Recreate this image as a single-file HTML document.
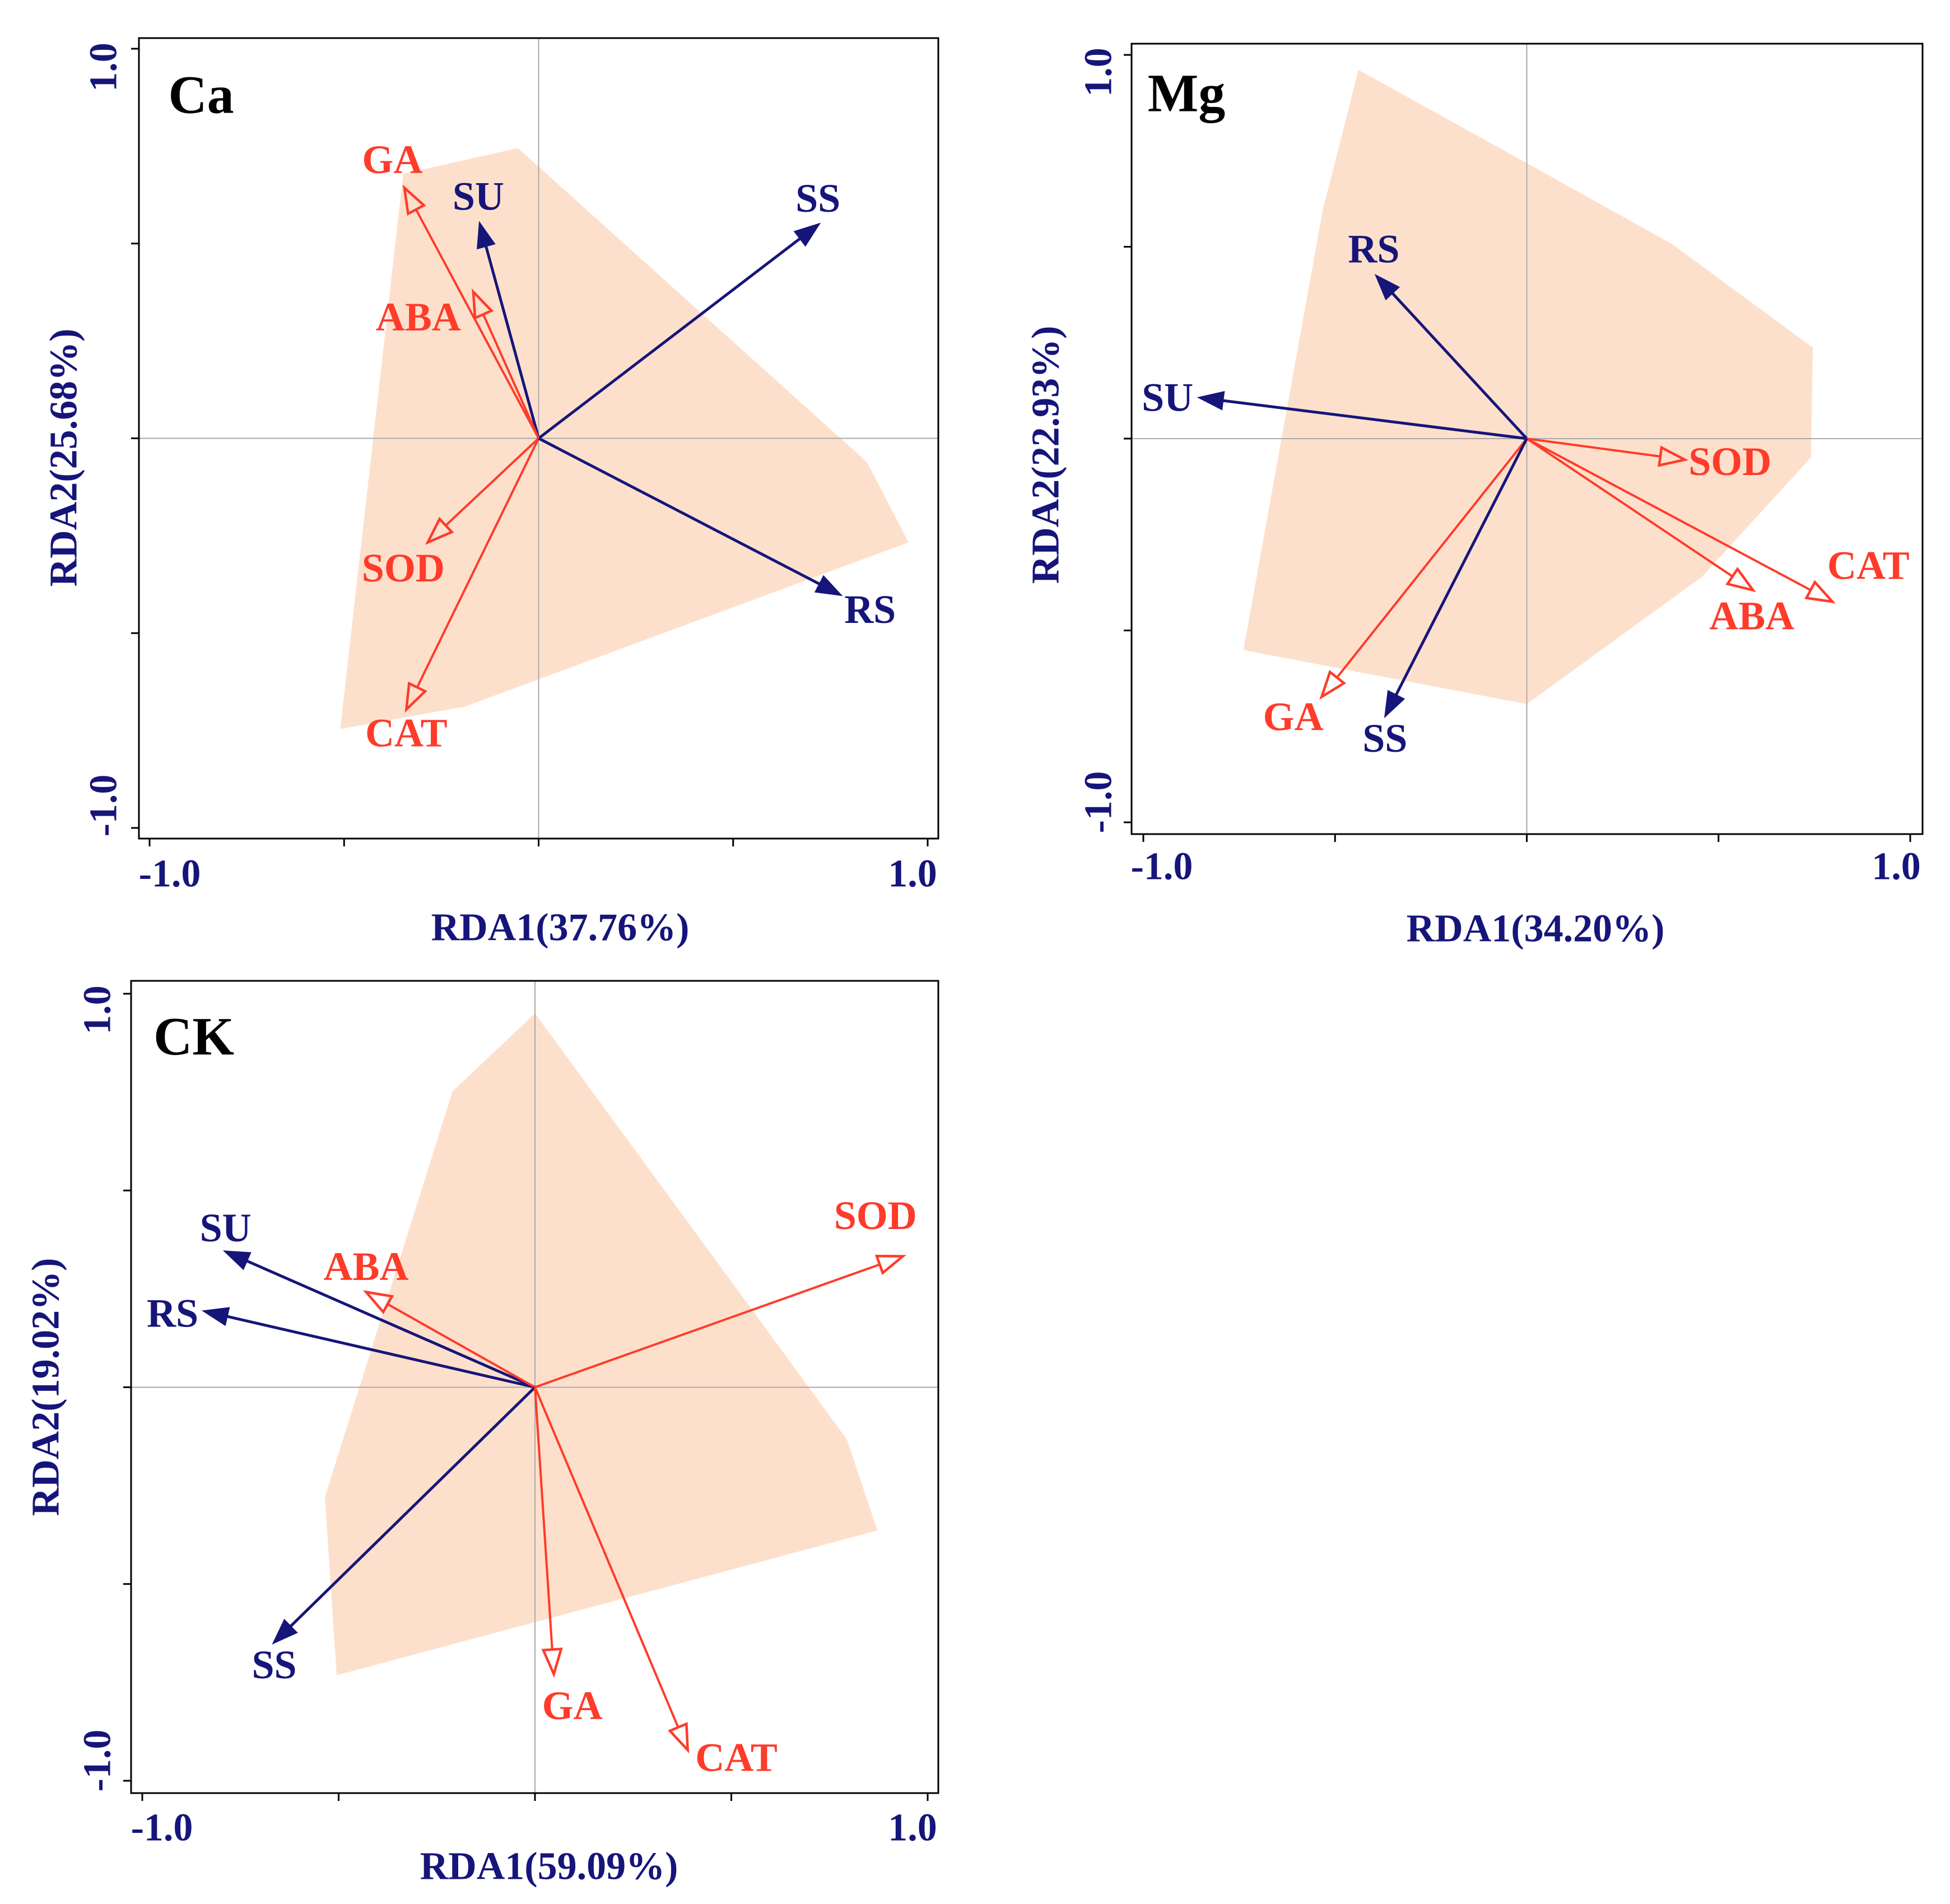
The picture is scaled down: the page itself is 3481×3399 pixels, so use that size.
<!DOCTYPE html>
<html><head><meta charset="utf-8"><style>
html,body{margin:0;padding:0;background:#fff;}
svg{display:block;font-family:"Liberation Serif",serif;font-weight:bold;}
</style></head><body>
<svg id="chart" width="3481" height="3399" viewBox="0 0 3481 3399" xmlns="http://www.w3.org/2000/svg"></svg>
<script>
// ---- Ca panel data ----
const caVars = ["GA","SU","SS","ABA","SOD","CAT","RS"];
const caX = [-0.345,-0.152,0.722,-0.168,-0.285,-0.340,0.778];
const caY = [0.643,0.554,0.551,0.376,-0.267,-0.696,-0.403];
const caLabX = [-0.376,-0.155,0.718,-0.309,-0.348,-0.340,0.852];
const caLabY = [0.715,0.621,0.616,0.311,-0.333,-0.756,-0.439];
const caHullX = [-0.348,-0.053,0.844,0.951,-0.191,-0.510];
const caHullY = [0.679,0.745,-0.061,-0.267,-0.689,-0.746];
// ---- Mg panel data ----
const mgVars = ["RS","SU","SOD","ABA","CAT","GA","SS"];
const mgX = [-0.394,-0.856,0.412,0.590,0.797,-0.535,-0.370];
const mgY = [0.426,0.107,-0.055,-0.395,-0.425,-0.673,-0.725];
const mgLabX = [-0.399,-0.937,0.530,0.587,0.891,-0.609,-0.370];
const mgLabY = [0.494,0.107,-0.060,-0.462,-0.331,-0.725,-0.781];
const mgHullX = [-0.439,-0.532,-0.739,0,0.457,0.741,0.746,0.379,0];
const mgHullY = [0.961,0.596,-0.551,-0.692,-0.360,-0.049,0.237,0.507,0.718];
// ---- CK panel data ----
const ckVars = ["SU","RS","ABA","SOD","SS","GA","CAT"];
const ckX = [-0.791,-0.845,-0.430,0.937,-0.667,0.048,0.389];
const ckY = [0.346,0.194,0.242,0.333,-0.651,-0.729,-0.922];
const ckLabX = [-0.788,-0.923,-0.430,0.867,-0.664,0.095,0.513];
const ckLabY = [0.405,0.188,0.307,0.436,-0.705,-0.809,-0.941];
const ckHullX = [0,-0.210,-0.535,-0.505,0.872,0.794];
const ckHullY = [0.950,0.752,-0.279,-0.732,-0.364,-0.132];
const tickVals = [-1,-0.5,0,0.5,1];
const tickLabels = ["-1.0","1.0"];
const responseVars = ["SS","SU","RS"];

const NS="http://www.w3.org/2000/svg";
const svg=document.getElementById('chart');
const NAVY="#16157a", RED="#ff3b2a", FILL="#fde0cc";
function mk(tag,attrs,parent){const e=document.createElementNS(NS,tag);for(const k in attrs)e.setAttribute(k,attrs[k]);(parent||svg).appendChild(e);return e;}

const panels=[
 {id:"ca",title:"Ca",xt:"RDA1(37.76%)",yt:"RDA2(25.68%)",vars:caVars,X:caX,Y:caY,LX:caLabX,LY:caLabY,HX:caHullX,HY:caHullY,
  frame:[248,68,1675,1497],x0:267,x1:1656,y0:1478,y1:87,title_pos:[359,169],xtp:[1000,1656],ytp:[114,817],xtl:[303,1629,1560],ytl:[185,120,1438]},
 {id:"mg",title:"Mg",xt:"RDA1(34.20%)",yt:"RDA2(22.93%)",vars:mgVars,X:mgX,Y:mgY,LX:mgLabX,LY:mgLabY,HX:mgHullX,HY:mgHullY,
  frame:[2020,78,3432,1489],x0:2041,x1:3410,y0:1468,y1:98,title_pos:[2118,166],xtp:[2741,1658],ytp:[1867,812],xtl:[2074,3385,1547],ytl:[1961,129,1432]},
 {id:"ck",title:"CK",xt:"RDA1(59.09%)",yt:"RDA2(19.02%)",vars:ckVars,X:ckX,Y:ckY,LX:ckLabX,LY:ckLabY,HX:ckHullX,HY:ckHullY,
  frame:[234,1751,1675,3201],x0:254,x1:1656,y0:3179,y1:1774,title_pos:[346,1850],xtp:[980,3332],ytp:[82,2476],xtl:[289,1629,3263],ytl:[174,1803,3143]}
];

panels.forEach(p=>{
  const g=mk('g',{});
  
  
  const sx=v=>p.x0+(v+1)/2*(p.x1-p.x0);
  const sy=v=>p.y0+(v+1)/2*(p.y1-p.y0);
  const [fl,ft,fr,fb]=p.frame;
  const pts=p.HX.map((v,i)=>sx(v)+','+sy(p.HY[i])).join(' ');
  const hull=mk('polygon',{points:pts,fill:FILL,stroke:"none"},g);
  
  
  const vl=mk('line',{x1:sx(0),x2:sx(0),y1:ft,y2:fb,stroke:"#aaa","stroke-width":2},g);
  
  
  const hl=mk('line',{x1:fl,x2:fr,y1:sy(0),y2:sy(0),stroke:"#aaa","stroke-width":2},g);
  
  
  const fr_=mk('rect',{x:fl,y:ft,width:fr-fl,height:fb-ft,fill:"none",stroke:"#000","stroke-width":3},g);
  
  
  tickVals.forEach(t=>{
    const tx=mk('line',{x1:sx(t),x2:sx(t),y1:fb,y2:fb+14,stroke:"#000","stroke-width":3},g);
    
    
    const ty=mk('line',{x1:fl,x2:fl-14,y1:sy(t),y2:sy(t),stroke:"#000","stroke-width":3},g);
    
    
  });
  [[p.xtl[0],tickLabels[0]],[p.xtl[1],tickLabels[1]]].forEach(([x,s])=>{
    const t=mk('text',{x:x,y:p.xtl[2],"text-anchor":"middle","dominant-baseline":"central","font-size":70,fill:NAVY},g);
    t.textContent=s;
    
    
  });
  [[p.ytl[1],tickLabels[1]],[p.ytl[2],tickLabels[0]]].forEach(([y,s])=>{
    const t=mk('text',{x:p.ytl[0],y:y,"text-anchor":"middle","dominant-baseline":"central","font-size":70,fill:NAVY,transform:`rotate(-90 ${p.ytl[0]} ${y})`},g);
    t.textContent=s;
    
    
  });
  const xt=mk('text',{x:p.xtp[0],y:p.xtp[1],"text-anchor":"middle","dominant-baseline":"central","font-size":70,fill:NAVY},g);
  xt.textContent=p.xt;
  
  
  const yt=mk('text',{x:p.ytp[0],y:p.ytp[1],"text-anchor":"middle","dominant-baseline":"central","font-size":70,fill:NAVY,transform:`rotate(-90 ${p.ytp[0]} ${p.ytp[1]})`},g);
  yt.textContent=p.yt;
  
  
  const tt=mk('text',{x:p.title_pos[0],y:p.title_pos[1],"text-anchor":"middle","dominant-baseline":"central","font-size":96,fill:"#000"},g);
  tt.textContent=p.title;
  
  
  const ox=sx(0), oy=sy(0);
  p.vars.forEach((v,i)=>{
    const isResp=responseVars.includes(v);
    const col=isResp?NAVY:RED;
    const tx=sx(p.X[i]), ty=sy(p.Y[i]);
    const dx=tx-ox, dy=ty-oy, L=Math.hypot(dx,dy), ux=dx/L, uy=dy/L;
    const hl_=44, hw=16;
    const bx=tx-ux*hl_, by=ty-uy*hl_;
    const ag=mk('g',{},g);
    
    
    mk('line',{x1:ox,y1:oy,x2:bx,y2:by,stroke:col,"stroke-width":isResp?5:4},ag);
    const hp=`${tx},${ty} ${bx-uy*hw},${by+ux*hw} ${bx+uy*hw},${by-ux*hw}`;
    mk('polygon',{points:hp,fill:isResp?col:"none",stroke:col,"stroke-width":isResp?2:4.5,"stroke-linejoin":"miter"},ag);
    const lb=mk('text',{x:sx(p.LX[i]),y:sy(p.LY[i]),"text-anchor":"middle","dominant-baseline":"central","font-size":72,fill:col},g);
    lb.textContent=v;
    
    
  });
});
</script>
</body></html>
